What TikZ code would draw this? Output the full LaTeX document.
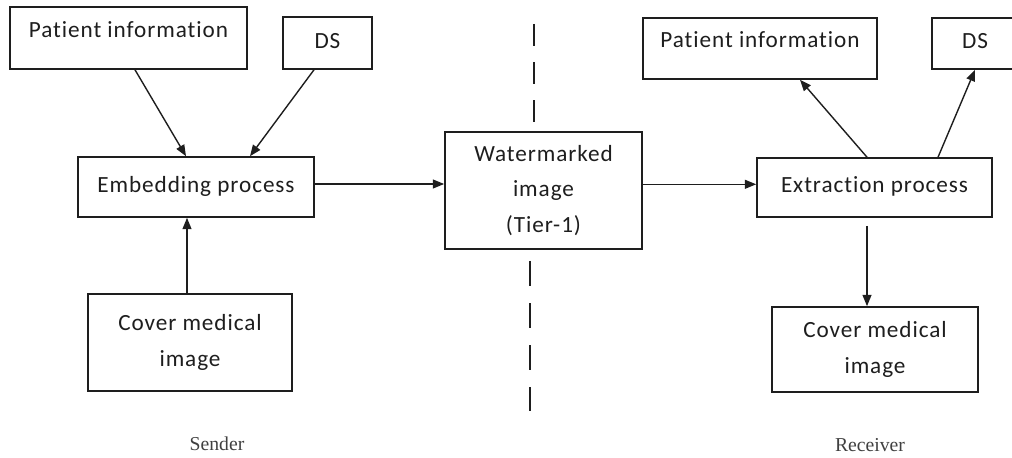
\documentclass[tikz,border=0pt]{standalone}
\usepackage{fontspec}
\setmainfont{Carlito}[Ligatures=NoCommon, LetterSpace=4]
\newfontfamily\captionfont{Liberation Serif}
\usetikzlibrary{arrows.meta}

\definecolor{ink}{HTML}{1E1E1E}

\tikzset{
  block/.style={draw=ink, line width=0.04cm, fill=white, inner sep=0pt,
    font=\fontsize{16.5}{25.5}\selectfont, text=ink},
  oneline/.style={text height=0.38cm, text depth=0.12cm},
  raised/.style={text height=0.38cm, text depth=0.42cm},
  twoline/.style={align=center},
  flow/.style={draw=ink, line width=0.035cm, -{Triangle[length=0.28cm,width=0.22cm]}},
  divider/.style={draw=ink, line width=0.035cm},
  side/.style={font=\captionfont\fontsize{14}{16}\selectfont, text=ink!85},
}

\begin{document}
\begin{tikzpicture}[x=0.025cm, y=-0.025cm]
  \useasboundingbox (0,0) rectangle (1012,458);

  % sender / receiver divide
  \coordinate (cutA) at (534,24);
  \coordinate (cutB) at (534,122);
  \coordinate (cutC) at (530,261);
  \coordinate (cutD) at (530,411);
  \draw[divider, dash pattern=on 0.55cm off 0.4cm] (cutA) -- (cutB);
  \draw[divider, dash pattern=on 0.625cm off 0.425cm] (cutC) -- (cutD);

  % sender side
  \node[block, raised, minimum width=5.925cm, minimum height=1.55cm] (infoS) at (128.5,38) {Patient information};
  \node[block, oneline, minimum width=2.225cm, minimum height=1.3cm] (dsS) at (327.5,43) {DS};
  \node[block, oneline, minimum width=5.9cm, minimum height=1.5cm] (embed) at (196,187) {Embedding process};
  \node[block, twoline, minimum width=5.1cm, minimum height=2.425cm] (coverS) at (190,342.5) {Cover medical\\image};

  % channel
  \node[block, twoline, minimum width=4.925cm, minimum height=2.925cm] (mark) at (543.5,190.5) {Watermarked\\image\\(Tier-1)};

  % receiver side
  \node[block, raised, minimum width=5.85cm, minimum height=1.525cm] (infoR) at (760,48.5) {Patient information};
  \node[block, oneline, minimum width=2.15cm, minimum height=1.275cm] (dsR) at (975,43.5) {DS};
  \node[block, oneline, minimum width=5.875cm, minimum height=1.475cm] (extract) at (874.5,187.5) {Extraction process};
  \node[block, twoline, minimum width=5.15cm, minimum height=2.125cm] (coverR) at (875,349.5) {Cover medical\\image};

  \node[side] (sender) at (217,444) {Sender};
  \node[side] (receiver) at (870,445.5) {Receiver};

  % connectors
  \draw[flow] ([xshift=0.1625cm]infoS.south) -- ([xshift=-0.25cm]embed.north);
  \draw[flow] ([xshift=-0.3375cm]dsS.south) -- ([xshift=1.35cm]embed.north);
  \draw[flow] ([xshift=-0.075cm]coverS.north) -- ([xshift=-0.075cm]coverS.north |- embed.south);
  \draw[flow] ([yshift=0.075cm]embed.east) -- ([yshift=0.075cm]embed.east -| mark.west);
  \draw[flow] ([yshift=0.08cm]extract.west -| mark.east) -- ([yshift=0.08cm]extract.west);
  \draw[flow] ([xshift=-0.1875cm]extract.north) -- ([xshift=1cm]infoR.south);
  \draw[flow] ([xshift=1.5875cm]extract.north) -- (dsR.south);
  \draw[flow] ([xshift=-0.1875cm,yshift=-0.2cm]extract.south) -- ([xshift=-0.2cm]coverR.north);
\end{tikzpicture}
\end{document}
